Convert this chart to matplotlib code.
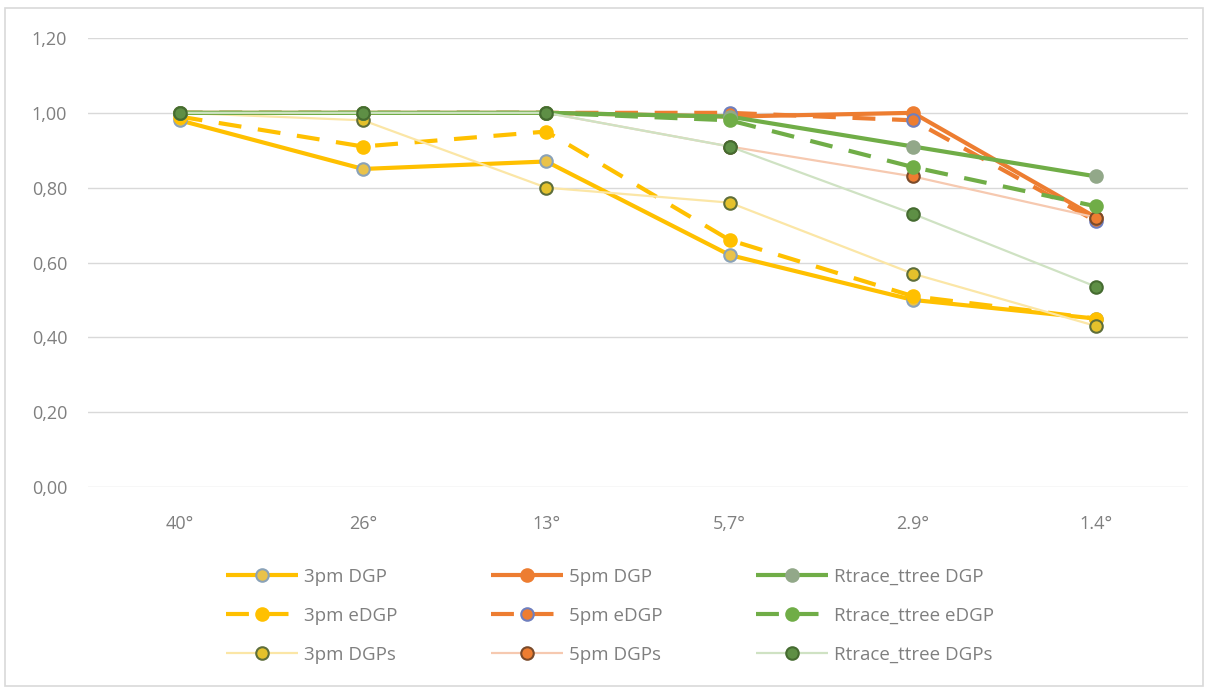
import numpy as np
import matplotlib.pyplot as plt

# x categories (view angles)
angles = ["40°", "26°", "13°", "5,7°", "2.9°", "1.4°"]

# values
dgp_3pm = [0.98, 0.85, 0.87, 0.62, 0.50, 0.45]
edgp_3pm = [0.99, 0.91, 0.95, 0.66, 0.51, 0.45]
dgps_3pm = [1.00, 0.98, 0.80, 0.76, 0.57, 0.43]
dgp_5pm = [1.00, 1.00, 1.00, 0.99, 1.00, 0.72]
edgp_5pm = [1.00, 1.00, 1.00, 1.00, 0.98, 0.71]
dgps_5pm = [1.00, 1.00, 1.00, 0.91, 0.83, 0.72]
dgp_rt = [1.00, 1.00, 1.00, 0.99, 0.91, 0.83]
edgp_rt = [1.00, 1.00, 1.00, 0.98, 0.855, 0.75]
dgps_rt = [1.00, 1.00, 1.00, 0.91, 0.73, 0.535]

labels = ["3pm DGP", "3pm eDGP", "3pm DGPs",
          "5pm DGP", "5pm eDGP", "5pm DGPs",
          "Rtrace_ttree DGP", "Rtrace_ttree eDGP", "Rtrace_ttree DGPs"]
series = [dgp_3pm, edgp_3pm, dgps_3pm, dgp_5pm, edgp_5pm, dgps_5pm, dgp_rt, edgp_rt, dgps_rt]

yellow = "#FFC000"
orange = "#ED7D31"
green = "#70AD47"

# line colour, line width, dash style, marker face, marker edge
styles = [
    (yellow, 3.0, "solid", "#E9C24A", "#8AA2B8"),
    (yellow, 3.0, "dashed", yellow, yellow),
    ("#FBE6A6", 1.6, "solid", "#E4C12C", "#5E6E3A"),
    (orange, 3.0, "solid", orange, orange),
    (orange, 3.0, "dashed", orange, "#6F7FBE"),
    ("#F6C9B0", 1.6, "solid", orange, "#7A4A2A"),
    (green, 3.0, "solid", "#92A889", "#92A889"),
    (green, 3.0, "dashed", green, green),
    ("#CFE2C3", 1.6, "solid", "#5E8F45", "#456B30"),
]

plt.rcParams['font.family'] = ['Open Sans', 'DejaVu Sans']
fig = plt.figure(figsize=(12.08, 6.89), dpi=100)
ax = fig.add_axes([88/1208, 1-487/689, 1100/1208, 449/689])

x = np.arange(len(angles))
handles = []
for vals, lab, (c, lw, ls, mfc, mec) in zip(series, labels, styles):
    line, = ax.plot(x, vals, color=c, lw=lw, marker="o", ms=9, mfc=mfc, mec=mec,
                    mew=1.5, label=lab, solid_capstyle="butt")
    if ls == "dashed":
        line.set_dashes((5.5, 4))
        line.set_dash_capstyle("butt")
    handles.append(line)

ax.set_xlim(-0.5, len(angles) - 0.5)
ax.set_ylim(0, 1.2)
ax.set_yticks(np.arange(0, 1.21, 0.2))
ax.set_yticklabels([f"{v:.2f}".replace(".", ",") for v in np.arange(0, 1.21, 0.2)])
ax.set_xticks(x)
ax.set_xticklabels(angles)
ax.tick_params(length=0, colors="#7F7F7F", labelsize=13)
ax.tick_params(axis="y", pad=15)
ax.tick_params(axis="x", pad=20)
ax.grid(axis="y", color="#D9D9D9", lw=1)
ax.set_axisbelow(True)
for s in ax.spines.values():
    s.set_visible(False)

leg = fig.legend(handles=handles, loc="center", bbox_to_anchor=(610/1208, 1-616/689),
                 ncol=3, frameon=False, numpoints=1, handlelength=3.85,
                 columnspacing=5.0, labelspacing=1.12, fontsize=13.5, handletextpad=0.3)
for t in leg.get_texts():
    t.set_color("#7F7F7F")

# light chart-area border
fig.patches.append(plt.Rectangle((0.004, 0.004), 0.992, 0.985, transform=fig.transFigure,
                                 fill=False, ec="#D9D9D9", lw=1.2))

fig.savefig("out.png", dpi=100)
